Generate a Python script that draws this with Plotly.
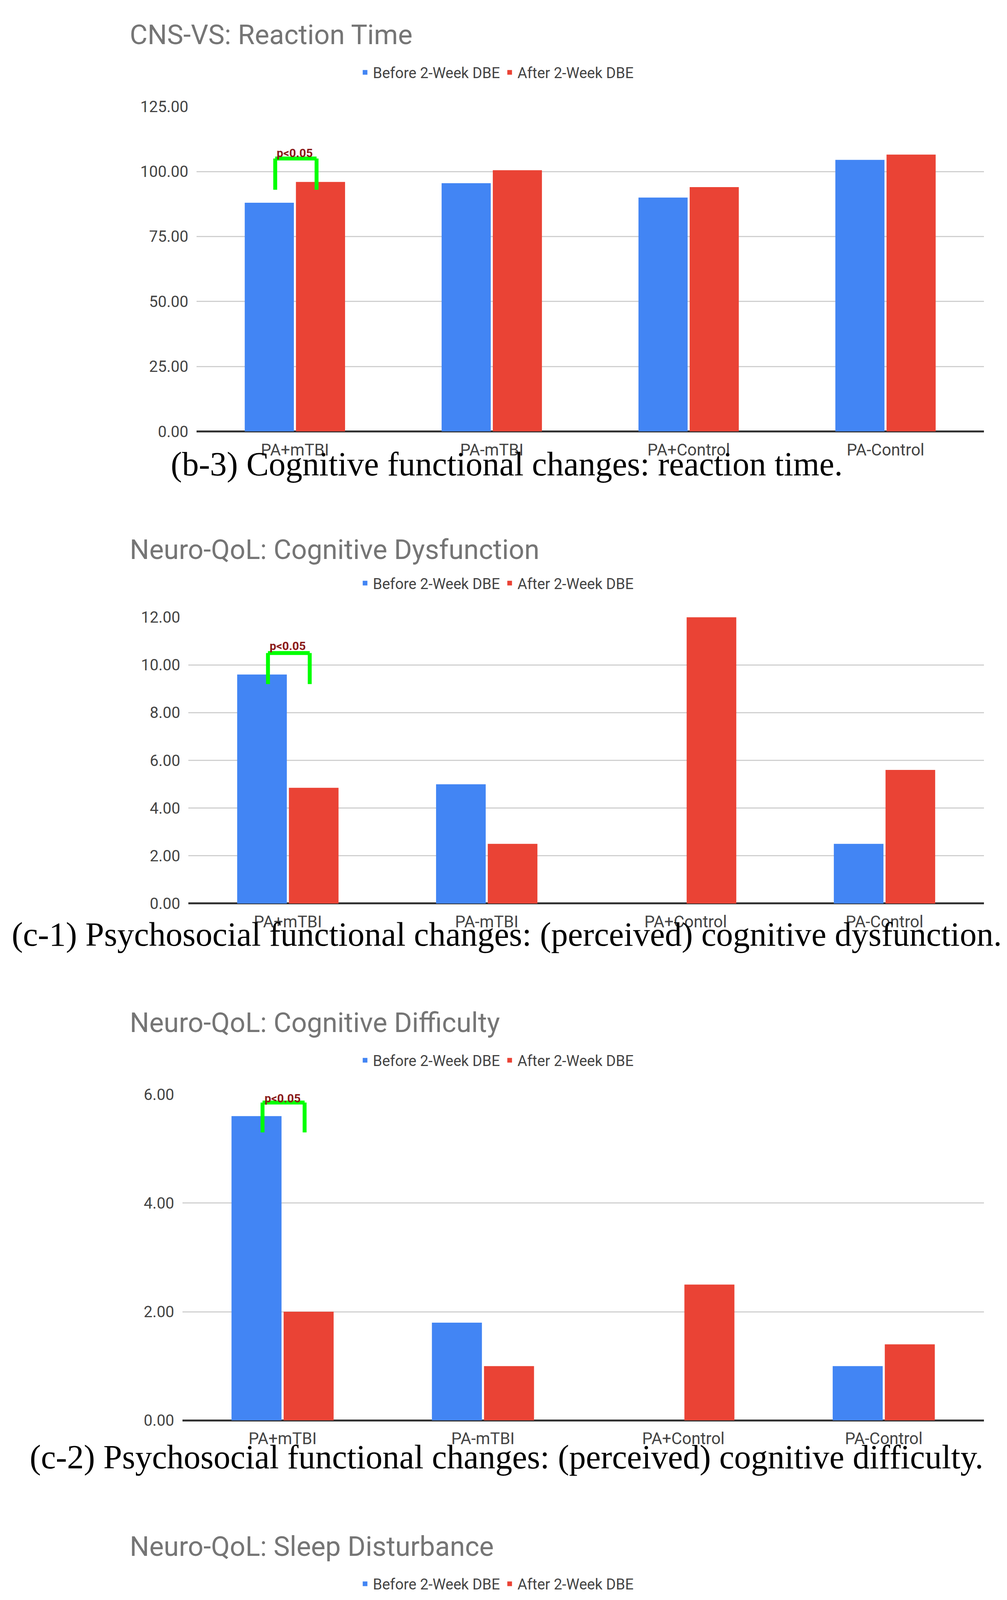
import plotly.graph_objects as go

groups = ['PA+mTBI', 'PA-mTBI', 'PA+Control', 'PA-Control']
series_names = ['Before 2-Week DBE', 'After 2-Week DBE']

titles = ['CNS-VS: Reaction Time', 'Neuro-QoL: Cognitive Dysfunction',
          'Neuro-QoL: Cognitive Difficulty', 'Neuro-QoL: Sleep Disturbance']
captions = ['(b-3) Cognitive functional changes: reaction time.',
            '(c-1) Psychosocial functional changes: (perceived) cognitive dysfunction.',
            '(c-2) Psychosocial functional changes: (perceived) cognitive difficulty.',
            '(c-3) Psychosocial functional changes: sleep disturbance.']

before = [[88.0, 95.5, 90.0, 104.5],
          [9.6, 5.0, 0.0, 2.5],
          [5.6, 1.8, 0.0, 1.0],
          [14.0, 8.2, 19.0, 4.2]]
after = [[96.0, 100.5, 94.0, 106.5],
         [4.85, 2.5, 12.0, 5.6],
         [2.0, 1.0, 2.5, 1.4],
         [8.2, 5.7, 14.4, 5.2]]

y_max = [125, 12, 6, 20]
y_step = [25, 2, 2, 5]

# significance bracket: (top, bottom, label y) for PA+mTBI
brackets = [(105, 93, 110), (10.5, 9.2, 11.1), (5.85, 5.3, 6.06), (15.2, 13.3, 16.1)]

H = 5291
def py(pix):
    return 1 - pix / H

# layout per panel (pixel positions)
panels = [
    dict(top=244, bottom=1084, x0=0.192, x1=0.974, title=60, legend=157, caption=1168),
    dict(top=1563, bottom=2303, x0=0.184, x1=0.974, title=1389, legend=1476, caption=2383),
    dict(top=2795, bottom=3638, x0=0.178, x1=0.974, title=2611, legend=2708, caption=3732),
    dict(top=4144, bottom=5007, x0=0.182, x1=0.983, title=3963, legend=4060, caption=5111),
]

BLUE = '#4285F4'
RED = '#EA4335'

fig = go.Figure()
layout = dict(width=2577, height=H, paper_bgcolor='white', plot_bgcolor='white',
              barmode='group', bargap=0.48, bargroupgap=0.04,
              margin=dict(l=0, r=0, t=0, b=0),
              font=dict(family='Roboto, Arial', color='#444'))
annotations = []
shapes = []

for i, p in enumerate(panels):
    n = '' if i == 0 else str(i + 1)
    leg = 'legend' + n
    xs = list(range(len(groups)))
    for name, vals, col in [(series_names[0], before[i], BLUE), (series_names[1], after[i], RED)]:
        fig.add_trace(go.Bar(x=xs, y=vals, name=name, marker=dict(color=col, line_width=0),
                             xaxis='x' + n, yaxis='y' + n, legend=leg))
    layout['xaxis' + n] = dict(domain=[p['x0'], p['x1']], anchor='y' + n, range=[-0.5, 3.5],
                               tickvals=xs, ticktext=groups, showgrid=False,
                               showline=False, zeroline=False, ticklabelstandoff=18,
                               tickfont=dict(size=42, color='#444'), ticks='')
    layout['yaxis' + n] = dict(domain=[py(p['bottom']), py(p['top'])], anchor='x' + n,
                               range=[0, y_max[i] * 1.001], dtick=y_step[i], tickformat='.2f',
                               gridcolor='#d0d0d0', gridwidth=3, zeroline=True,
                               zerolinecolor='#333', zerolinewidth=5,
                               tickfont=dict(size=40, color='#444'), ticksuffix='  ')
    layout[leg] = dict(orientation='h', x=0.49, xanchor='center', y=py(p['legend']),
                       yanchor='middle', font=dict(size=38, color='#444'),
                       itemwidth=30, bgcolor='rgba(0,0,0,0)')
    annotations.append(dict(text=titles[i], xref='paper', yref='paper', x=0.125,
                            y=py(p['title']), xanchor='left', yanchor='middle',
                            showarrow=False, font=dict(size=70, color='#757575')))
    annotations.append(dict(text=captions[i], xref='paper', yref='paper', x=0.5,
                            y=py(p['caption']), xanchor='center', yanchor='middle',
                            showarrow=False,
                            font=dict(size=86, color='black', family='Liberation Serif')))
    top, bot, ly = brackets[i]
    xl, xr = -0.1, 0.11
    for (a, b, c, d) in [(xl, bot, xl, top), (xl, top, xr, top), (xr, top, xr, bot)]:
        shapes.append(dict(type='line', xref='x' + n, yref='y' + n, x0=a, y0=b, x1=c, y1=d,
                           line=dict(color='#00FF00', width=10)))
    annotations.append(dict(text='<b>p<0.05</b>', xref='x' + n, yref='y' + n + ' domain',
                            x=0.0, y=ly / y_max[i], showarrow=False,
                            font=dict(size=30, color='#8B1A1A')))

layout['annotations'] = annotations
layout['shapes'] = shapes
fig.update_layout(**layout)

fig.write_html("out.html")
